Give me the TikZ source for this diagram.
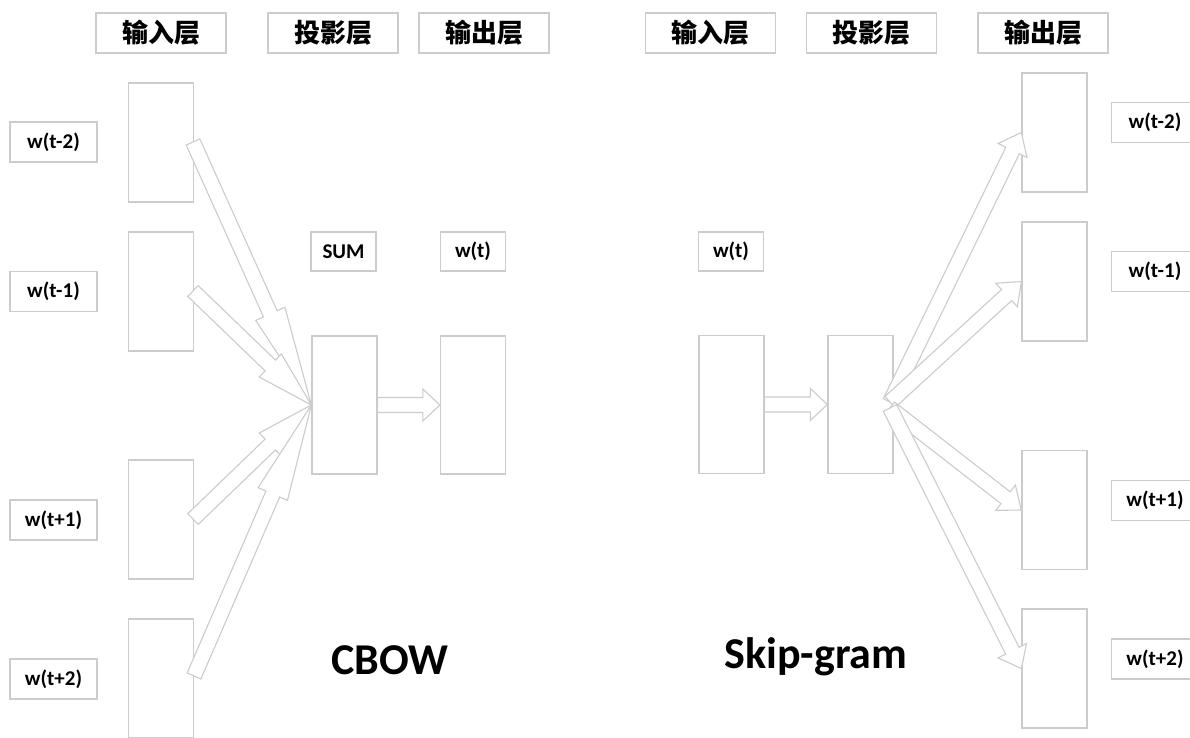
\documentclass[tikz,border=0pt]{standalone}
\usepackage{fontspec}
\setmainfont{Carlito}
\newfontfamily\cjk{Noto Sans CJK SC}
\usetikzlibrary{calc}
\definecolor{boxgray}{HTML}{CCCCCC}
\tikzset{
  box/.style={draw=boxgray, line width=1.3pt, rectangle, inner sep=0pt, fill=white},
  header/.style={box, minimum width=130pt, minimum height=40pt, font=\cjk\bfseries\fontsize{26}{29}\selectfont},
  lab/.style={box, minimum width=87pt, minimum height=40pt, font=\bfseries\fontsize{21}{24}\selectfont},
  small/.style={box, minimum width=65pt, minimum height=39pt, font=\bfseries\fontsize{21}{24}\selectfont},
  vec/.style={box, minimum width=65pt, minimum height=119pt},
  mid/.style={box, minimum width=65pt, minimum height=138pt},
  arrowline/.style={draw=boxgray, line width=1.1pt, fill=white, line join=miter},
  title/.style={font=\bfseries\fontsize{44}{48}\selectfont}
}
\newcommand\blockarrow[3]{%
  \path let \p1=(#1), \p2=(#2), \n1={atan2(\y2-\y1,\x2-\x1)}, \n2={veclen(\x2-\x1,\y2-\y1)} in
    \pgfextra{\xdef\baang{\n1}\xdef\balen{\n2}};
  \draw[arrowline, shift={(#1)}, rotate=\baang]
    (0,-7.5) -- ({\balen-#3},-7.5) -- ({\balen-#3},-16) -- (\balen,0)
    -- ({\balen-#3},16) -- ({\balen-#3},7.5) -- (0,7.5) -- cycle;}
\begin{document}
\begin{tikzpicture}[x=1pt,y=-1pt]
\useasboundingbox[fill=white] (0,0) rectangle (1190,737);
% ---------- CBOW ----------
\node[header] (hL1) at (161,33) {输入层};
\node[header] (hL2) at (333,33) {投影层};
\node[header] (hL3) at (484,33) {输出层};

\node[vec] (in1) at (161,142.5) {};
\node[vec] (in2) at (161,291.5) {};
\node[vec] (in3) at (161,519.5) {};
\node[vec] (in4) at (161,678.5) {};

\node[lab] (l1) at (53.5,142) {w(t-2)};
\node[lab] (l2) at (53.5,291.5) {w(t-1)};
\node[lab] (l3) at (53.5,520) {w(t+1)};
\node[lab] (l4) at (53.5,679) {w(t+2)};

\node[small] (sum) at (343.5,251.5) {SUM};
\node[small] (wtL) at (473,251.5) {w(t)};
\node[mid] (projL) at (344.5,405) {};
\node[mid] (outL) at (473,405) {};

\coordinate (ta1) at (193,142);
\coordinate (ta2) at (193,291);
\coordinate (ta3) at (193,519);
\coordinate (ta4) at (194,676);
\blockarrow{ta1}{projL.west}{100}
\blockarrow{ta2}{projL.west}{57}
\blockarrow{ta3}{projL.west}{57}
\blockarrow{ta4}{projL.west}{97}
\blockarrow{projL.east}{outL.west}{17}

\node[title] (cbow) at (390,660) {CBOW};

% ---------- Skip-gram ----------
\node[header] (hR1) at (710.5,33) {输入层};
\node[header] (hR2) at (871.5,33) {投影层};
\node[header] (hR3) at (1043,33) {输出层};

\node[small] (wtR) at (731,251.5) {w(t)};
\node[mid] (inR) at (731.5,404.5) {};
\node[mid] (projR) at (860.5,404.5) {};
\blockarrow{inR.east}{projR.west}{17}

\node[vec] (o1) at (1054.5,132.5) {};
\node[vec] (o2) at (1054.5,281.5) {};
\node[vec] (o3) at (1054.5,510) {};
\node[vec] (o4) at (1054.5,668.5) {};

\node[lab] (r1) at (1155,122.5) {w(t-2)};
\node[lab] (r2) at (1155,271.5) {w(t-1)};
\node[lab] (r3) at (1155,500.5) {w(t+1)};
\node[lab] (r4) at (1155,659) {w(t+2)};

\coordinate (su) at (890,402);
\coordinate (sd) at (890,408);
\blockarrow{su}{o1.west}{20}
\blockarrow{su}{o2.west}{20}
\blockarrow{sd}{o3.west}{20}
\blockarrow{sd}{o4.west}{20}

\node[title] (skip) at (816,657) {Skip-gram};
\end{tikzpicture}
\end{document}
